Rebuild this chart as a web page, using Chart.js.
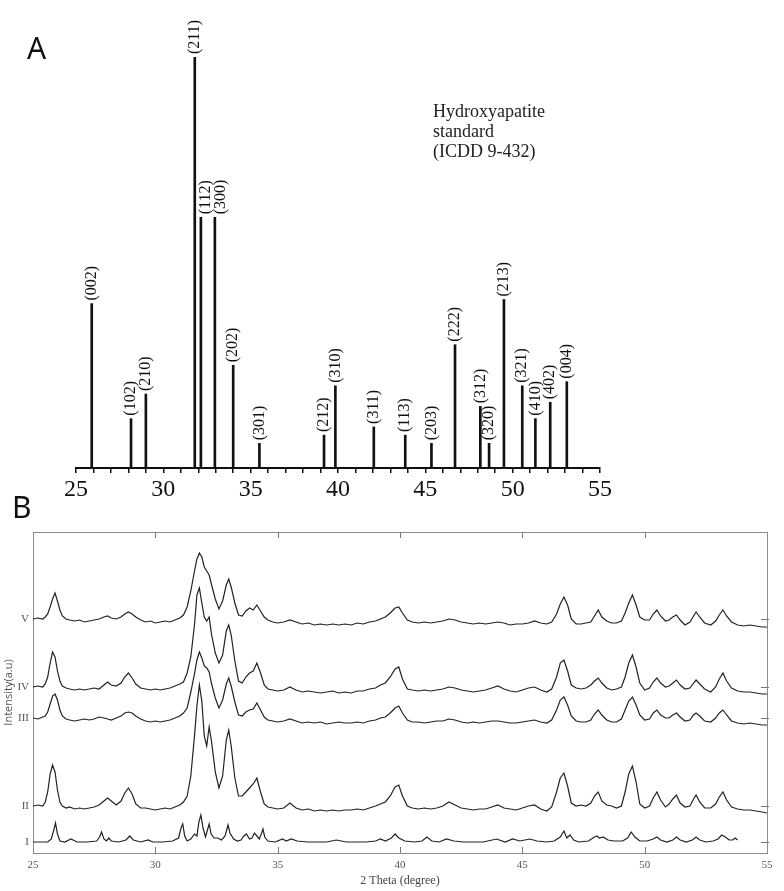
<!DOCTYPE html>
<html>
<head>
<meta charset="utf-8">
<script src="https://cdn.jsdelivr.net/npm/chart.js@4.4.1/dist/chart.umd.min.js"></script>
<style>
  body { margin: 0; background: #fff; }
  #wrap { position: relative; width: 784px; height: 891px; overflow: hidden; }
  canvas { position: absolute; left: 0; }
  .panel { position: absolute; font-family: "Noto Sans", sans-serif; font-size: 30px; line-height: 30px; color: #111; }
  #note { position: absolute; left: 433px; top: 101px; font-family: "Liberation Serif", serif; font-size: 18px; line-height: 20px; color: #222; }
</style>
</head>
<body>
<div id="wrap">
  <canvas id="stdChart" width="784" height="505" style="top:0"></canvas>
  <canvas id="xrdChart" width="784" height="401" style="top:490px"></canvas>
  <div class="panel" style="left:27px; top:33px">A</div>
  <div class="panel" style="left:12px; top:492px">B</div>
  <div id="note">Hydroxyapatite<br>standard<br>(ICDD 9-432)</div>
</div>
<script>
// A: hydroxyapatite standard reflections
const planes = ['(002)', '(102)', '(210)', '(211)', '(112)', '(300)', '(202)', '(301)', '(212)', '(310)', '(311)',
  '(113)', '(203)', '(222)', '(312)', '(320)', '(213)', '(321)', '(410)', '(402)', '(004)'];
const peakPos = [25.9, 28.15, 29.0, 31.8, 32.15, 32.95, 34.0, 35.5, 39.2, 39.85, 42.05,
  43.85, 45.35, 46.7, 48.15, 48.65, 49.5, 50.55, 51.3, 52.15, 53.1];
const peakInt = [40, 12, 18, 100, 61, 61, 25, 6, 8, 20, 10,
  8, 6, 30, 15, 6, 41, 20, 12, 16, 21];

// B: measured patterns (2 theta grid shared by II-V)
const theta = [
  25.0, 25.2, 25.4, 25.5, 25.6, 25.7, 25.8, 25.9, 26.0, 26.1, 26.2, 26.35, 26.5,
  26.7, 26.9, 27.1, 27.3, 27.5, 27.7, 27.9, 28.05, 28.2, 28.4, 28.6, 28.75, 28.9, 29.05, 29.2, 29.4,
  29.6, 29.8, 30.0, 30.2, 30.4, 30.6, 30.8, 31.0,
  31.15, 31.3, 31.45, 31.6, 31.7, 31.8, 31.9, 32.0, 32.1, 32.2, 32.3, 32.45, 32.6, 32.75, 32.9, 33.0, 33.1, 33.25, 33.4, 33.55, 33.7, 33.85, 34.0, 34.15, 34.3, 34.45, 34.6, 34.8,
  35.0, 35.25, 35.5, 35.75, 36.0, 36.25, 36.5, 36.75, 37.0, 37.25, 37.5, 37.75, 38.0, 38.25, 38.5, 38.75, 39.0,
  39.2, 39.4, 39.6, 39.8, 39.95, 40.1, 40.3, 40.5,
  40.75, 41.0, 41.25, 41.5, 41.75, 42.0, 42.25, 42.5, 42.75, 43.0, 43.25, 43.5, 43.75, 44.0, 44.25, 44.5, 44.75, 45.0, 45.25, 45.5, 45.75, 46.0,
  46.2, 46.4, 46.55, 46.7, 46.85, 47.0, 47.2, 47.4, 47.6, 47.8,
  47.95, 48.1, 48.25, 48.45, 48.65, 48.85, 49.05,
  49.2, 49.35, 49.5, 49.65, 49.8, 50.0,
  50.2, 50.35, 50.5, 50.65, 50.85, 51.0, 51.15, 51.3, 51.45, 51.65, 51.85, 52.0, 52.1, 52.25, 52.45, 52.7, 52.9,
  53.05, 53.2, 53.35, 53.55, 53.8, 54.05, 54.3, 54.55, 54.8, 55.0
];
const traceV = [
  0, 1, 0, 2, 5, 12, 20, 26, 18, 9, 3, 0, -1,
  -2, -1, -3, -2, -1, 0, 2, 3, 1, 0, 2, 5, 7, 5, 2, -1,
  -3, -2, -4, -3, -2, -3, -1, 1,
  4, 12, 28, 48, 60, 66, 62, 52, 48, 44, 34, 20, 10, 18, 34, 40, 32, 16, 4, 3, 8, 11, 9, 14, 8, 2, -1, -3,
  -4, -3, -1, -3, -5, -4, -6, -5, -6, -5, -6, -5, -6, -4, -5, -3, -2,
  0, 2, 6, 11, 12, 6, -1, -3,
  -4, -3, -4, -3, -2, 0, -1, -3, -4, -5, -4, -5, -4, -3, -4, -6, -5, -5, -4, -2, -4, -5,
  -3, 5, 15, 22, 14, 0, -5, -5, -4, -3,
  3, 9, 2, -2, -4, -4, -2,
  6, 16, 24, 14, 2, -1,
  -1, 5, 9, 3, -2, -1, 2, 4, -1, -6, -3, 3, 7, 2, -4, -6, -2,
  4, 9, 3, -3, -6, -7, -6, -7, -8, -8
];
const traceIV = [
  0, 1, 0, 3, 10, 24, 35, 30, 16, 6, 1, -1, -2,
  -3, -2, -3, -2, -1, -2, 2, 5, 2, 1, 4, 10, 14, 9, 3, -1,
  -2, -3, -2, -3, -2, -1, 1, 3,
  5, 14, 30, 62, 92, 99, 84, 70, 66, 70, 52, 34, 24, 32, 56, 62, 52, 26, 6, 4, 10, 14, 16, 24, 14, 2, -2, -3,
  -4, -3, 0, -3, -5, -4, -5, -6, -5, -4, -6, -5, -6, -4, -4, -2, -1,
  2, 4, 10, 18, 20, 8, -2, -3,
  -4, -3, -4, -3, -2, 0, -1, -3, -4, -5, -4, -3, -1, 1, -2, -4, -5, -3, -1, 0, -3, -5,
  -2, 10, 24, 27, 16, 2, -1, -2, -1, 2,
  6, 9, 4, -1, -3, -2, 0,
  10, 24, 32, 20, 4, -3,
  -1, 5, 9, 4, 0, 1, 4, 7, 2, -2, -1, 4, 7, 3, -2, -5, 0,
  8, 14, 6, -1, -4, -5, -5, -6, -7, -7
];
const traceIII = [
  0, -1, 1, 2, 6, 14, 22, 24, 18, 8, 2, -1, -2,
  -3, -2, -1, -2, -1, 1, 0, -1, -2, 0, 2, 5, 6, 5, 2, -1,
  -3, -4, -3, -4, -3, -2, 0, 2,
  5, 10, 26, 44, 58, 66, 60, 52, 50, 46, 34, 20, 10, 18, 34, 40, 32, 16, 3, 2, 6, 8, 9, 15, 8, 1, -2, -3,
  -4, -3, -1, -3, -5, -4, -5, -4, -6, -5, -4, -5, -5, -4, -5, -3, -2,
  0, 1, 5, 10, 12, 5, -2, -4,
  -4, -5, -4, -3, -3, -1, -2, -4, -5, -4, -5, -4, -3, -3, -4, -5, -5, -4, -3, -2, -4, -5,
  -2, 8, 18, 21, 13, 2, -3, -4, -4, -2,
  4, 8, 3, -2, -4, -4, -1,
  8, 17, 21, 13, 3, -2,
  -1, 5, 8, 3, 0, 0, 3, 5, 1, -3, -2, 3, 5, 2, -3, -4, 0,
  5, 8, 3, -3, -5, -6, -5, -6, -7, -7
];
const traceII = [
  0, 1, 0, 4, 14, 32, 41, 34, 16, 4, 0, -2, -1,
  -3, -2, -3, -2, -1, 1, 5, 8, 5, 1, 5, 13, 18, 12, 2, -2,
  -2, -3, -4, -3, -2, -3, -1, 1,
  4, 10, 30, 70, 100, 121, 105, 70, 60, 79, 64, 34, 18, 30, 66, 76, 60, 28, 10, 10, 14, 18, 22, 28, 14, 2, -1, -2,
  -3, -2, 3, -2, -4, -3, -5, -4, -5, -4, -5, -4, -4, -3, -4, -2, 0,
  2, 4, 10, 19, 21, 10, 0, -2,
  -3, -2, -3, -2, 0, 4, 1, -2, -3, -4, -3, -3, -1, 1, -2, -3, -4, -2, 0, 1, -3, -5,
  -1, 14, 28, 33, 20, 3, 0, 1, 0, 3,
  10, 14, 5, 1, 0, -2, 0,
  14, 32, 40, 24, 2, -2,
  0, 8, 14, 6, -1, 2, 7, 11, 3, -1, 0, 7, 11, 4, -2, -2, 2,
  9, 14, 6, -1, -3, -4, -4, -5, -6, -7
];
// trace I has its own sampling (sharper peaks, stops before 54)
const thetaI = [
  25.0, 25.3, 25.6, 25.75, 25.85, 25.92, 26.0, 26.1, 26.3, 26.55,
  26.8, 27.2, 27.6, 27.72, 27.8, 27.9, 28.0, 28.1, 28.2, 28.5,
  28.8, 28.95, 29.1, 29.4, 29.7, 29.9, 30.3, 30.7, 30.95, 31.05,
  31.12, 31.2, 31.3, 31.45, 31.6, 31.7, 31.78, 31.86, 31.95, 32.05,
  32.13, 32.2, 32.28, 32.4, 32.55, 32.7, 32.85, 32.97, 33.05, 33.2,
  33.35, 33.5, 33.62, 33.72, 33.85, 33.95, 34.05, 34.15, 34.25, 34.33,
  34.4, 34.47, 34.6, 34.9, 35.2, 35.35, 35.55, 35.8, 36.2, 36.6,
  37.0, 37.4, 37.8, 38.2, 38.6, 39.0, 39.2, 39.4, 39.65, 39.8,
  39.95, 40.2, 40.6, 40.9, 41.1, 41.3, 41.6, 41.9, 42.2, 42.6,
  43.0, 43.4, 43.95, 44.3, 44.6, 44.9, 45.3, 45.6, 46.0, 46.3,
  46.55, 46.7, 46.82, 46.95, 47.1, 47.3, 47.7, 47.95, 48.05, 48.15,
  48.3, 48.5, 48.75, 49.1, 49.3, 49.45, 49.6, 49.8, 50.1, 50.35,
  50.5, 50.65, 50.9, 51.15, 51.3, 51.45, 51.7, 51.95, 52.1, 52.25,
  52.5, 52.8, 53.0, 53.15, 53.3, 53.45, 53.6, 53.7, 53.8
];
const traceI = [
  0, 0, 0, 3, 12, 19, 8, 1, 0, 3,
  0, 0, 1, 5, 10, 3, 1, 4, 1, 0,
  2, 6, 2, 0, 2, 0, 0, 1, 4, 14,
  18, 6, 1, 3, 8, 6, 20, 27, 14, 5,
  12, 18, 8, 4, 4, 2, 6, 17, 9, 3,
  1, 2, 6, 8, 3, 4, 9, 6, 3, 8,
  13, 5, 1, 0, 3, 1, 3, 1, 0, 0,
  0, 2, 0, 0, 0, 1, 3, 1, 4, 8,
  4, 1, 0, 1, 5, 1, 0, 3, 1, 0,
  0, 0, 3, 0, 3, 1, 3, 1, 0, 1,
  5, 11, 4, 7, 2, 0, 1, 5, 6, 4,
  5, 2, 1, 1, 4, 10, 5, 1, 1, 3,
  5, 2, 0, 2, 5, 2, 0, 2, 5, 2,
  0, 1, 3, 7, 5, 2, 2, 4, 2
];
const traceNames = ['I', 'II', 'III', 'IV', 'V'];
const offsets = [11, 47, 135, 166, 234]; // stacking baseline of each pattern

const frameColor = '#8c8c8c';
const labelNudge = { '(112)': 5, '(300)': 6 }; // keep these clear of the (211) line

// 회절면 라벨을 막대 위에 세로로 쓰기
const stickLabels = {
  id: 'stickLabels',
  afterDatasetsDraw(chart) {
    const { ctx, scales: { x, y } } = chart;
    ctx.save();
    ctx.font = '16px "Liberation Serif"';
    ctx.fillStyle = '#111';
    ctx.textAlign = 'left';
    ctx.textBaseline = 'middle';
    planes.forEach((p, i) => {
      const px = x.getPixelForValue(peakPos[i]) + (labelNudge[p] || 0);
      const py = y.getPixelForValue(peakInt[i]) - 3;
      ctx.save();
      ctx.translate(px, py);
      ctx.rotate(-Math.PI / 2);
      ctx.fillText(p, 0, 0);
      ctx.restore();
    });
    ctx.restore();
  }
};

// inward ticks on the frame + baseline marks on the right edge
const frameTicks = {
  id: 'frameTicks',
  afterDraw(chart) {
    const { ctx, chartArea: a, scales: { x, y } } = chart;
    ctx.save();
    ctx.strokeStyle = '#777';
    ctx.lineWidth = 1;
    ctx.beginPath();
    x.ticks.forEach(t => {
      if (t.value <= x.min || t.value >= x.max) return;
      const px = Math.round(x.getPixelForValue(t.value)) + 0.5;
      ctx.moveTo(px, a.bottom); ctx.lineTo(px, a.bottom - 6);
      ctx.moveTo(px, a.top); ctx.lineTo(px, a.top + 6);
    });
    offsets.forEach(o => {
      const py = Math.round(y.getPixelForValue(o)) + 0.5;
      ctx.moveTo(a.right - 6, py); ctx.lineTo(a.right + 2, py);
    });
    ctx.stroke();
    ctx.restore();
  }
};

new Chart(document.getElementById('stdChart'), {
  type: 'bar',
  data: {
    datasets: [{
      data: peakPos.map((p, i) => ({ x: p, y: peakInt[i] })),
      backgroundColor: '#111',
      borderWidth: 0,
      barThickness: 2
    }]
  },
  options: {
    responsive: false,
    animation: false,
    layout: { padding: { left: 76, right: 184, top: 57, bottom: 0 } },
    plugins: { legend: { display: false }, tooltip: { enabled: false } },
    scales: {
      x: {
        type: 'linear', min: 25, max: 55, offset: false,
        ticks: {
          stepSize: 1, autoSkip: false, maxRotation: 0, padding: 2, color: '#111',
          font: { family: 'Liberation Serif', size: 24 },
          callback: v => (v % 5 === 0 ? v : '')
        },
        grid: { offset: false, drawOnChartArea: false, drawTicks: true, tickLength: 5, color: '#111', lineWidth: 1.5 },
        border: { color: '#111', width: 2 },
        afterFit(s) { s.height = 37; }
      },
      y: { display: false, min: 0, max: 100 }
    }
  },
  plugins: [stickLabels]
});

const patterns = [traceI, traceII, traceIII, traceIV, traceV];

new Chart(document.getElementById('xrdChart'), {
  type: 'line',
  data: {
    datasets: patterns.map((vals, k) => {
      const xs = k === 0 ? thetaI : theta;
      return {
        label: traceNames[k],
        data: vals.map((v, i) => ({ x: xs[i], y: offsets[k] + v })),
        borderColor: '#222',
        borderWidth: 1.2,
        pointRadius: 0,
        tension: 0
      };
    })
  },
  options: {
    responsive: false,
    animation: false,
    layout: { padding: { left: 0, right: 17, top: 42, bottom: 0 } },
    plugins: { legend: { display: false }, tooltip: { enabled: false } },
    scales: {
      x: {
        type: 'linear', min: 25, max: 55, position: 'bottom',
        ticks: { stepSize: 5, maxRotation: 0, autoSkip: false, padding: 6, color: '#555',
          font: { family: 'Liberation Serif', size: 11 } },
        grid: { drawOnChartArea: false, drawTicks: false },
        border: { color: frameColor, width: 1 },
        title: { display: true, text: '2 Theta (degree)', color: '#444',
          font: { family: 'Liberation Serif', size: 12 }, padding: { top: 2, bottom: 3 } },
        afterFit(s) { s.height = 38; }
      },
      xTop: {
        type: 'linear', min: 25, max: 55, position: 'top',
        ticks: { display: false },
        grid: { drawOnChartArea: false, drawTicks: false },
        border: { color: frameColor, width: 1 },
        afterFit(s) { s.height = 0; }
      },
      y: {
        min: 0, max: 321,
        afterBuildTicks(s) { s.ticks = offsets.map(v => ({ value: v })); },
        ticks: { padding: 4, color: '#555', font: { family: 'Liberation Serif', size: 11 },
          callback: (v, i) => traceNames[i] },
        grid: { drawOnChartArea: false, drawTicks: false },
        border: { color: frameColor, width: 1 },
        title: { display: true, text: 'Intensity(a.u)', color: '#555',
          font: { family: 'Open Sans', size: 11 }, padding: { top: 2, bottom: 2 } },
        afterFit(s) { s.width = 33; }
      },
      yRight: {
        position: 'right', min: 0, max: 321,
        ticks: { display: false },
        grid: { drawOnChartArea: false, drawTicks: false },
        border: { color: frameColor, width: 1 },
        afterFit(s) { s.width = 0; }
      }
    }
  },
  plugins: [frameTicks]
});
</script>
</body>
</html>
